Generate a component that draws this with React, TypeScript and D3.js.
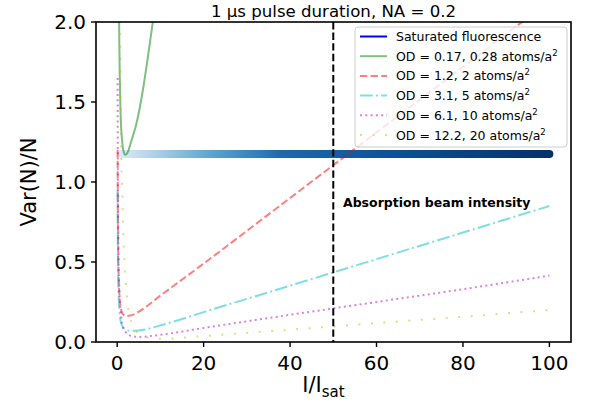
import React from 'react';
import * as d3 from 'd3';

// chart data
const gridS = [0.1, 0.15, 0.2, 0.3, 0.5, 0.8, 1.2, 2, 3, 5, 10, 20, 40, 60, 80, 100];
const redVals = [1.2, 0.84, 0.66, 0.45, 0.3, 0.22, 0.18, 0.163, 0.165, 0.19, 0.29, 0.49, 0.9, 1.31, 1.72, 2.13];
const cyanVals = [0.95, 0.62, 0.47, 0.32, 0.2, 0.13, 0.1, 0.078, 0.07, 0.072, 0.104, 0.187, 0.352, 0.518, 0.684, 0.85];
const magentaVals = [1.65, 1.1, 0.83, 0.56, 0.33, 0.2, 0.1, 0.06, 0.04, 0.032, 0.045, 0.088, 0.17, 0.25, 0.33, 0.415];

const greenS = [0.42, 0.5, 0.6, 0.75, 0.9, 1.1, 1.4, 1.9, 2.5, 3.2, 3.9, 4.5, 6.1, 7.2, 8.3, 8.8];
const greenVals = [2.1, 1.86, 1.66, 1.47, 1.35, 1.27, 1.2, 1.17, 1.19, 1.25, 1.31, 1.37, 1.6, 1.8, 2.01, 2.1];

const yellowS = [0.6, 0.7, 0.8, 0.9, 1.0, 1.16, 1.3, 1.45, 1.6, 1.8, 2.0, 2.2, 2.5, 3.0, 4, 5, 6.5, 9, 12, 15, 18, 30, 45, 60, 80, 100];
const yellowVals = [2.4, 1.95, 1.5, 1.25, 1.08, 0.96, 0.8, 0.65, 0.55, 0.45, 0.37, 0.3, 0.22, 0.15, 0.08, 0.05, 0.032, 0.02, 0.021, 0.027, 0.033, 0.057, 0.087, 0.118, 0.158, 0.2];

const satS = [1.1, 100];
const satLevel = 1.175;
const satStopS = [1.1, 10, 22, 33, 38, 50, 65, 100];
const satStopT = [0.15, 0.35, 0.55, 0.7, 0.78, 0.82, 0.88, 1.0];

const xTicks = [0, 20, 40, 60, 80, 100];
const yTicks = [0, 0.5, 1.0, 1.5, 2.0];
const beamX = 50;

const legendItems = [
  { label: 'Saturated fluorescence', sup: '', color: '#0000ff', dash: '', op: 1 },
  { label: 'OD = 0.17, 0.28 atoms/a', sup: '2', color: '#008000', dash: '', op: 0.5 },
  { label: 'OD = 1.2, 2 atoms/a', sup: '2', color: '#ff0000', dash: '7.4,3.2', op: 0.5 },
  { label: 'OD = 3.1, 5 atoms/a', sup: '2', color: '#00bfbf', dash: '12.8,3.2,2,3.2', op: 0.5 },
  { label: 'OD = 6.1, 10 atoms/a', sup: '2', color: '#bf00bf', dash: '2,3.3', op: 0.5 },
  { label: 'OD = 12.2, 20 atoms/a', sup: '2', color: '#bfbf00', dash: '2,10.5', op: 0.5 },
];

const W = 595, H = 414;
const L = 96, R = 571, T = 22, B = 342;
const font = 'DejaVu Sans, sans-serif';

export default function App() {
  const x = d3.scaleLinear().domain([-4.9, 105]).range([L, R]);
  const y = d3.scaleLinear().domain([0, 2]).range([B, T]);
  const line = d3.line<[number, number]>().x(d => x(d[0])).y(d => y(d[1])).curve(d3.curveMonotoneX);
  const zip = (s: number[], v: number[]) => s.map((si, i) => [si, v[i]] as [number, number]);

  const curves = [
    { pts: zip(greenS, greenVals), ...legendItems[1] },
    { pts: zip(gridS, redVals), ...legendItems[2] },
    { pts: zip(gridS, cyanVals), ...legendItems[3] },
    { pts: zip(gridS, magentaVals), ...legendItems[4] },
    { pts: zip(yellowS, yellowVals), ...legendItems[5] },
  ];

  const gx0 = x(satS[0]), gx1 = x(satS[1]);

  return (
    <svg width={W} height={H} style={{ position: 'absolute', left: 0, top: 0, background: '#fff' }} fontFamily={font}>
      <defs>
        <clipPath id="plot"><rect x={L} y={T} width={R - L} height={B - T} /></clipPath>
        <linearGradient id="satGrad" gradientUnits="userSpaceOnUse" x1={gx0} x2={gx1} y1={0} y2={0}>
          {satStopS.map((s, i) => (
            <stop key={i} offset={(x(s) - gx0) / (gx1 - gx0)} stopColor={d3.interpolateBlues(satStopT[i])} />
          ))}
        </linearGradient>
      </defs>

      <g clipPath="url(#plot)">
        <line x1={gx0} x2={gx1} y1={y(satLevel)} y2={y(satLevel)} stroke="url(#satGrad)" strokeWidth={8} strokeLinecap="round" />
        {curves.map((c, i) => (
          <path key={i} d={line(c.pts) || ''} fill="none" stroke={c.color} strokeOpacity={c.op}
            strokeWidth={2} strokeDasharray={c.dash || undefined} />
        ))}
        <line x1={x(beamX)} x2={x(beamX)} y1={T} y2={B} stroke="#000" strokeWidth={2} strokeDasharray="7.4,3.2" />
      </g>

      <text x={343} y={207} fontSize={12.5} fontWeight="bold">Absorption beam intensity</text>

      {/* legend */}
      <g>
        <rect x={355} y={27} width={212} height={120} rx={3} fill="#fff" fillOpacity={0.8} stroke="#cccccc" strokeWidth={1} />
        {legendItems.map((it, i) => {
          const cy = 36.5 + i * 19.7;
          return (
            <g key={i}>
              <line x1={360} x2={387} y1={cy} y2={cy} stroke={it.color} strokeOpacity={it.op} strokeWidth={2}
                strokeDasharray={it.dash || undefined} />
              <text x={396} y={cy + 4.5} fontSize={12.5}>
                {it.label}
                {it.sup && <tspan fontSize={8.5} dy={-5}>{it.sup}</tspan>}
              </text>
            </g>
          );
        })}
      </g>

      {/* frame */}
      <rect x={L} y={T} width={R - L} height={B - T} fill="none" stroke="#000" strokeWidth={1.6} />

      {xTicks.map(t => (
        <g key={t}>
          <line x1={x(t)} x2={x(t)} y1={B} y2={B + 5} stroke="#000" strokeWidth={1.4} />
          <text x={x(t)} y={B + 28} fontSize={20} textAnchor="middle">{t}</text>
        </g>
      ))}
      {yTicks.map(t => (
        <g key={t}>
          <line x1={L - 5} x2={L} y1={y(t)} y2={y(t)} stroke="#000" strokeWidth={1.4} />
          <text x={L - 10} y={y(t) + 7} fontSize={20} textAnchor="end">{d3.format('.1f')(t)}</text>
        </g>
      ))}

      <text x={(L + R) / 2} y={16.5} fontSize={16.6} textAnchor="middle">1 μs pulse duration, NA = 0.2</text>
      <text x={(L + R) / 2 - 10} y={392} fontSize={21} textAnchor="middle">
        I/I<tspan fontSize={15} dy={5}>sat</tspan>
      </text>
      <text transform={`translate(36,${(T + B) / 2}) rotate(-90)`} fontSize={21} textAnchor="middle">Var(N)/N</text>
    </svg>
  );
}
